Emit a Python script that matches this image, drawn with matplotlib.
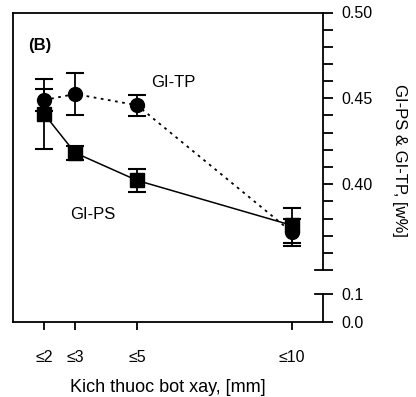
import matplotlib
matplotlib.use("Agg")
import matplotlib.pyplot as plt
from matplotlib.ticker import MultipleLocator, FixedLocator

plt.rcParams['font.family'] = ['Liberation Sans', 'DejaVu Sans']

# Data
x_vals = [2, 3, 5, 10]
x_labels = ['≤2', '≤3', '≤5', '≤10']
gi_tp = [0.449, 0.4525, 0.446, 0.372]
gi_tp_err = [0.0065, 0.012, 0.006, 0.008]
gi_ps = [0.441, 0.4183, 0.4022, 0.376]
gi_ps_err = [0.0205, 0.0042, 0.0068, 0.0103]

W, H = 416, 397
fig = plt.figure(figsize=(W / 100, H / 100), dpi=100)

def fx(px):
    return px / W

def fy(py):
    return (H - py) / H

left_px, right_px = 13, 323
top_px, bottom_px = 12.5, 322
upper_bot_px = 270
lower_top_px = 293.5

# Main frame axes
ax = fig.add_axes([fx(left_px), fy(bottom_px), fx(right_px) - fx(left_px), fy(top_px) - fy(bottom_px)])
ax.set_xlim(1, 11)
ax.set_ylim(0, 1)
ax.spines['right'].set_visible(False)
for s in ['left', 'top', 'bottom']:
    ax.spines[s].set_linewidth(1.3)
ax.set_yticks([])
ax.set_xticks(x_vals)
ax.set_xticklabels(x_labels, fontsize=11.5)
ax.tick_params(axis='x', direction='out', length=6, width=1.3, pad=14)
ax.patch.set_alpha(0)

# Upper right axis (0.35 - 0.50)
axu = fig.add_axes([fx(left_px), fy(upper_bot_px), fx(right_px) - fx(left_px), fy(top_px) - fy(upper_bot_px)])
axu.set_xlim(1, 11)
axu.set_ylim(0.35, 0.50)
axu.patch.set_alpha(0)
for s in ['left', 'top', 'bottom']:
    axu.spines[s].set_visible(False)
axu.spines['right'].set_linewidth(1.3)
axu.set_xticks([])
axu.yaxis.tick_right()
axu.yaxis.set_major_locator(FixedLocator([0.40, 0.45, 0.50]))
axu.yaxis.set_minor_locator(MultipleLocator(0.01))
axu.set_yticklabels(['0.40', '0.45', '0.50'], fontsize=11.5)
axu.tick_params(axis='y', which='both', direction='out', length=7, width=1.3, pad=6)
# break cap at the bottom of the upper axis
cap = 8 / (right_px - left_px)
axu.plot([1 - cap, 1], [0, 0], transform=axu.transAxes, color='black', lw=1.3, clip_on=False)

# Lower right axis (0.0 - 0.1)
axl = fig.add_axes([fx(left_px), fy(bottom_px), fx(right_px) - fx(left_px), fy(lower_top_px) - fy(bottom_px)])
axl.set_xlim(1, 11)
axl.set_ylim(0.0, 0.1)
axl.patch.set_alpha(0)
for s in ['left', 'top', 'bottom']:
    axl.spines[s].set_visible(False)
axl.spines['right'].set_linewidth(1.3)
axl.set_xticks([])
axl.yaxis.tick_right()
axl.set_yticks([0.0, 0.1])
axl.set_yticklabels(['0.0', '0.1'], fontsize=11.5)
axl.tick_params(axis='y', direction='out', length=7, width=1.3, pad=6)
axl.plot([1 - cap, 1], [1, 1], transform=axl.transAxes, color='black', lw=1.3, clip_on=False)

# Data series
axu.errorbar(x_vals, gi_ps, yerr=gi_ps_err, fmt='s-', color='black', ms=10,
             lw=1.1, elinewidth=1.3, capsize=6.5, capthick=1.5, clip_on=False, zorder=3)
axu.errorbar(x_vals, gi_tp, yerr=gi_tp_err, fmt='o', color='black', ms=10,
             elinewidth=1.3, capsize=6.5, capthick=1.5, clip_on=False, zorder=4)
axu.plot(x_vals, gi_tp, color='black', lw=1.3, linestyle=(0, (1.5, 2.5)), clip_on=False, zorder=2)

axu.text(1.48, 0.481, '(B)', fontsize=12, fontweight='bold', va='center', ha='left')
axu.text(5.45, 0.4592, 'GI-TP', fontsize=12, va='center', ha='left')
axu.text(2.84, 0.3826, 'GI-PS', fontsize=12, va='center', ha='left')

fig.text(fx(168), fy(387), 'Kich thuoc bot xay, [mm]', fontsize=13, ha='center', va='center')
fig.text(fx(400), fy(160), 'GI-PS & GI-TP, [w%]', fontsize=12, ha='center', va='center', rotation=-90)

fig.savefig('out.png', dpi=100)
